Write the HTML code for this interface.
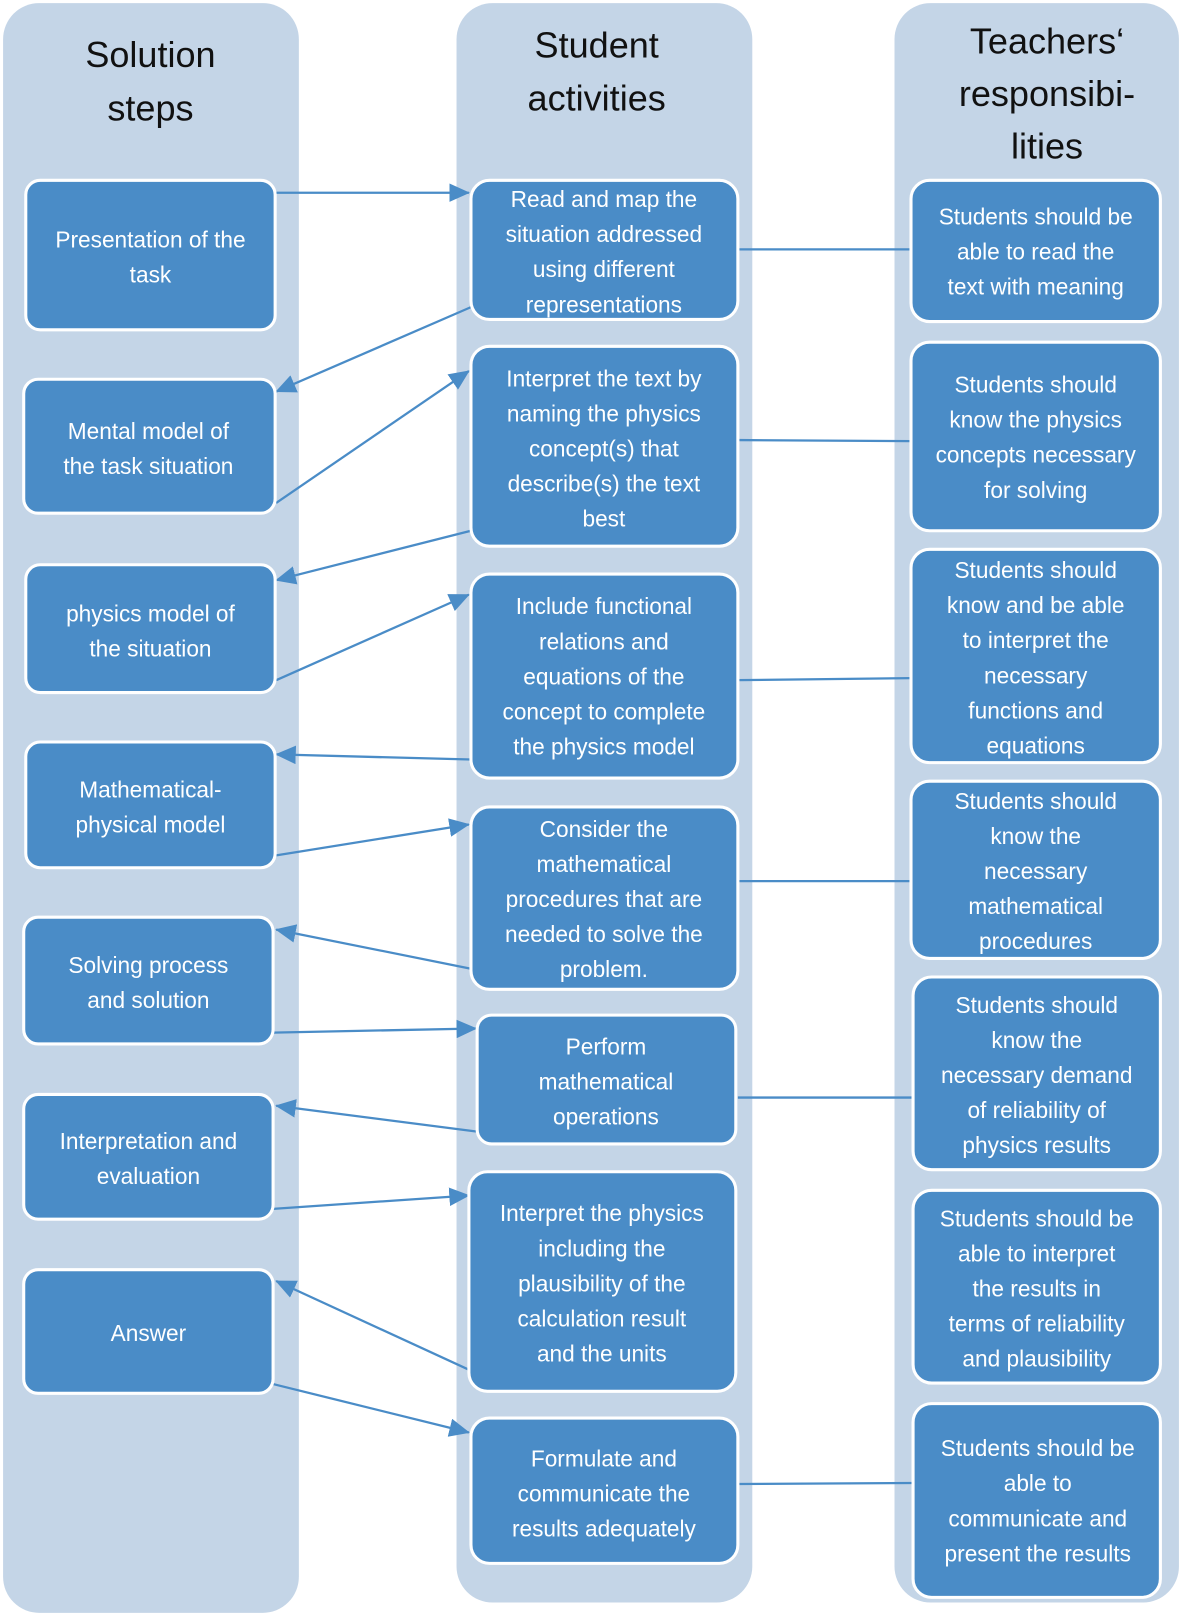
<!DOCTYPE html>
<html><head><meta charset="utf-8"><style>
html,body{margin:0;padding:0;background:#fff;}
svg{display:block;}
text{font-family:"Liberation Sans",sans-serif;}
.h{font-size:35px;fill:#111;text-anchor:middle;}
.t{font-size:22px;fill:#fff;text-anchor:middle;}
.b{fill:#4a8cc7;stroke:#fff;stroke-width:3;}
.c{fill:#c4d5e7;}
.l{stroke:#4a8cc7;stroke-width:2.2;fill:none;}
</style></head><body>
<svg width="1181" height="1618" viewBox="0 0 1146 1570" preserveAspectRatio="none" xmlns="http://www.w3.org/2000/svg">
<defs><marker id="a" markerWidth="10" markerHeight="10" refX="9" refY="5" orient="auto" markerUnits="userSpaceOnUse" viewBox="0 0 10 10"><path d="M0,0 L10,5 L0,10 z" fill="#4a8cc7" transform="scale(1)"/></marker>
<marker id="m" markerWidth="20" markerHeight="18" refX="19" refY="9" orient="auto" markerUnits="userSpaceOnUse"><path d="M0,0 L20,9 L0,18 z" fill="#4a8cc7"/></marker></defs>
<rect class="c" x="3" y="3" width="287" height="1562" rx="35"/>
<rect class="c" x="443" y="3" width="287" height="1552" rx="35"/>
<rect class="c" x="868" y="3" width="276" height="1552" rx="35"/>
<text class="h" x="146"><tspan x="146" y="65">Solution</tspan><tspan x="146" y="117">steps</tspan></text>
<text class="h" x="579"><tspan x="579" y="56">Student</tspan><tspan x="579" y="107">activities</tspan></text>
<text class="h" x="1016"><tspan x="1016" y="52">Teachers‘</tspan><tspan x="1016" y="103">responsibi-</tspan><tspan x="1016" y="154">lities</tspan></text>

<!-- connectors -->
<line class="l" x1="267" y1="187" x2="455" y2="187" marker-end="url(#m)"/>
<line class="l" x1="457" y1="298" x2="268" y2="380" marker-end="url(#m)"/>
<line class="l" x1="268" y1="488" x2="455" y2="360" marker-end="url(#m)"/>
<line class="l" x1="457" y1="515" x2="268" y2="563" marker-end="url(#m)"/>
<line class="l" x1="268" y1="660" x2="455" y2="577" marker-end="url(#m)"/>
<line class="l" x1="457" y1="737" x2="268" y2="732" marker-end="url(#m)"/>
<line class="l" x1="268" y1="830" x2="455" y2="800" marker-end="url(#m)"/>
<line class="l" x1="457" y1="940" x2="268" y2="902" marker-end="url(#m)"/>
<line class="l" x1="265" y1="1002" x2="462" y2="998" marker-end="url(#m)"/>
<line class="l" x1="463" y1="1098" x2="268" y2="1073" marker-end="url(#m)"/>
<line class="l" x1="265" y1="1173" x2="455" y2="1160" marker-end="url(#m)"/>
<line class="l" x1="457" y1="1330" x2="268" y2="1243" marker-end="url(#m)"/>
<line class="l" x1="265" y1="1343" x2="455" y2="1390" marker-end="url(#m)"/>
<line class="l" x1="716" y1="242" x2="884" y2="242"/>
<line class="l" x1="716" y1="427" x2="884" y2="428"/>
<line class="l" x1="716" y1="660" x2="884" y2="658"/>
<line class="l" x1="716" y1="855" x2="884" y2="855"/>
<line class="l" x1="716" y1="1065" x2="886" y2="1065"/>
<line class="l" x1="716" y1="1440" x2="886" y2="1439"/>

<!-- left boxes -->
<rect class="b" x="25" y="175" width="242" height="145" rx="14"/>
<text class="t"><tspan x="146" y="240">Presentation of the</tspan><tspan x="146" y="274">task</tspan></text>
<rect class="b" x="23" y="368" width="244" height="130" rx="14"/>
<text class="t"><tspan x="144" y="426">Mental model of</tspan><tspan x="144" y="460">the task situation</tspan></text>
<rect class="b" x="25" y="548" width="242" height="124" rx="14"/>
<text class="t"><tspan x="146" y="603">physics model of</tspan><tspan x="146" y="637">the situation</tspan></text>
<rect class="b" x="25" y="720" width="242" height="122" rx="14"/>
<text class="t"><tspan x="146" y="774">Mathematical-</tspan><tspan x="146" y="808">physical model</tspan></text>
<rect class="b" x="23" y="890" width="242" height="123" rx="14"/>
<text class="t"><tspan x="144" y="944">Solving process</tspan><tspan x="144" y="978">and solution</tspan></text>
<rect class="b" x="23" y="1062" width="242" height="121" rx="14"/>
<text class="t"><tspan x="144" y="1115">Interpretation and</tspan><tspan x="144" y="1149">evaluation</tspan></text>
<rect class="b" x="23" y="1232" width="242" height="120" rx="14"/>
<text class="t"><tspan x="144" y="1301">Answer</tspan></text>

<!-- middle boxes -->
<rect class="b" x="457" y="175" width="259" height="135" rx="18"/>
<text class="t"><tspan x="586" y="201">Read and map the</tspan><tspan x="586" y="235">situation addressed</tspan><tspan x="586" y="269">using different</tspan><tspan x="586" y="303">representations</tspan></text>
<rect class="b" x="457" y="336" width="259" height="194" rx="18"/>
<text class="t"><tspan x="586" y="375">Interpret the text by</tspan><tspan x="586" y="409">naming the physics</tspan><tspan x="586" y="443">concept(s) that</tspan><tspan x="586" y="477">describe(s) the  text</tspan><tspan x="586" y="511">best</tspan></text>
<rect class="b" x="457" y="557" width="259" height="198" rx="18"/>
<text class="t"><tspan x="586" y="596">Include functional</tspan><tspan x="586" y="630">relations and</tspan><tspan x="586" y="664">equations of the</tspan><tspan x="586" y="698">concept to complete</tspan><tspan x="586" y="732">the physics model</tspan></text>
<rect class="b" x="457" y="783" width="259" height="177" rx="18"/>
<text class="t"><tspan x="586" y="812">Consider the</tspan><tspan x="586" y="846">mathematical</tspan><tspan x="586" y="880">procedures that are</tspan><tspan x="586" y="914">needed to solve the</tspan><tspan x="586" y="948">problem.</tspan></text>
<rect class="b" x="463" y="985" width="251" height="125" rx="14"/>
<text class="t"><tspan x="588" y="1023">Perform</tspan><tspan x="588" y="1057">mathematical</tspan><tspan x="588" y="1091">operations</tspan></text>
<rect class="b" x="455" y="1137" width="259" height="213" rx="18"/>
<text class="t"><tspan x="584" y="1185">Interpret the physics</tspan><tspan x="584" y="1219">including the</tspan><tspan x="584" y="1253">plausibility of the</tspan><tspan x="584" y="1287">calculation result</tspan><tspan x="584" y="1321">and the units</tspan></text>
<rect class="b" x="457" y="1376" width="259" height="141" rx="18"/>
<text class="t"><tspan x="586" y="1423">Formulate and</tspan><tspan x="586" y="1457">communicate the</tspan><tspan x="586" y="1491">results adequately</tspan></text>

<!-- right boxes -->
<rect class="b" x="884" y="175" width="242" height="137" rx="18"/>
<text class="t"><tspan x="1005" y="218">Students should be</tspan><tspan x="1005" y="252">able to read the</tspan><tspan x="1005" y="286">text with meaning</tspan></text>
<rect class="b" x="884" y="332" width="242" height="183" rx="18"/>
<text class="t"><tspan x="1005" y="381">Students should</tspan><tspan x="1005" y="415">know the physics</tspan><tspan x="1005" y="449">concepts necessary</tspan><tspan x="1005" y="483">for solving</tspan></text>
<rect class="b" x="884" y="533" width="242" height="207" rx="18"/>
<text class="t"><tspan x="1005" y="561">Students should</tspan><tspan x="1005" y="595">know and be able</tspan><tspan x="1005" y="629">to interpret the</tspan><tspan x="1005" y="663">necessary</tspan><tspan x="1005" y="697">functions and</tspan><tspan x="1005" y="731">equations</tspan></text>
<rect class="b" x="884" y="758" width="242" height="172" rx="18"/>
<text class="t"><tspan x="1005" y="785">Students should</tspan><tspan x="1005" y="819">know the</tspan><tspan x="1005" y="853">necessary</tspan><tspan x="1005" y="887">mathematical</tspan><tspan x="1005" y="921">procedures</tspan></text>
<rect class="b" x="886" y="948" width="240" height="187" rx="18"/>
<text class="t"><tspan x="1006" y="983">Students should</tspan><tspan x="1006" y="1017">know the</tspan><tspan x="1006" y="1051">necessary demand</tspan><tspan x="1006" y="1085">of reliability of</tspan><tspan x="1006" y="1119">physics results</tspan></text>
<rect class="b" x="886" y="1155" width="240" height="187" rx="18"/>
<text class="t"><tspan x="1006" y="1190">Students should be</tspan><tspan x="1006" y="1224">able to interpret</tspan><tspan x="1006" y="1258">the results  in</tspan><tspan x="1006" y="1292">terms of reliability</tspan><tspan x="1006" y="1326">and plausibility</tspan></text>
<rect class="b" x="886" y="1362" width="240" height="188" rx="18"/>
<text class="t"><tspan x="1007" y="1413">Students should be</tspan><tspan x="1007" y="1447">able to</tspan><tspan x="1007" y="1481">communicate and</tspan><tspan x="1007" y="1515">present the results</tspan></text>
</svg>
</body></html>
